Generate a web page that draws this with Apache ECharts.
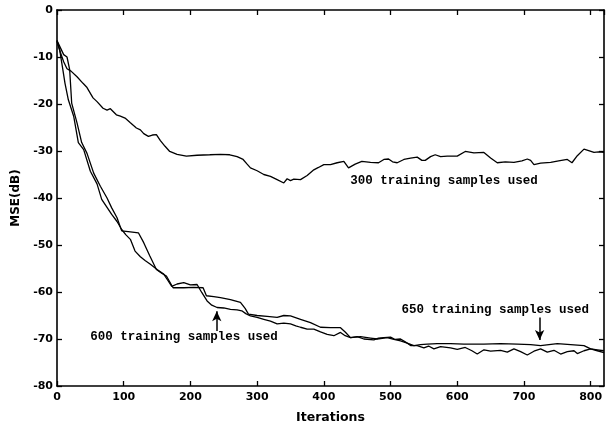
<!DOCTYPE html>
<html>
<head>
<meta charset="utf-8">
<script src="https://cdn.jsdelivr.net/npm/echarts@6/dist/echarts.min.js"></script>
<style>
html,body{margin:0;padding:0;background:#fff;}
#chart{width:611px;height:429px;}
</style>
</head>
<body>
<div id="chart"></div>
<script>
// ---- data ----
var iter300 = [0,5,10,15,21,30,39,45,54,60,69,75,80,89,95,102,110,119,125,130,137,143,149,155,162,169,180,194,210,229,245,259,270,279,285,290,300,310,320,330,340,345,350,355,365,375,385,392,400,410,420,430,437,447,457,470,482,490,497,503,510,520,530,540,547,552,560,567,575,585,600,612,625,640,650,660,672,685,697,705,710,715,725,740,752,765,772,780,790,797,805,812,820];
var mse300 = [-6.7,-9,-11,-12.5,-13,-14.2,-15.6,-16.5,-18.7,-19.5,-20.9,-21.3,-21,-22.3,-22.6,-23,-24,-25.1,-25.5,-26.3,-26.9,-26.6,-26.5,-27.8,-29,-30.1,-30.7,-31.1,-30.9,-30.8,-30.7,-30.8,-31.2,-31.8,-32.8,-33.6,-34.2,-35,-35.4,-36.1,-36.8,-35.9,-36.3,-36,-36.1,-35.2,-34,-33.5,-32.9,-32.9,-32.5,-32.2,-33.6,-32.8,-32.2,-32.4,-32.5,-31.8,-31.7,-32.3,-32.5,-31.8,-31.5,-31.3,-32,-32,-31.2,-30.8,-31.2,-31.1,-31.1,-30.1,-30.4,-30.3,-31.5,-32.5,-32.3,-32.4,-32.1,-31.7,-32,-32.9,-32.6,-32.4,-32.1,-31.8,-32.5,-31,-29.6,-29.9,-30.3,-30.2,-30.3];

var iter650 = [0,5,10,15,19,22,30,37,45,55,65,75,82,90,97,110,122,130,139,149,157,164,174,190,205,219,224,235,245,260,275,282,287,300,315,330,340,350,365,380,395,410,425,432,440,455,470,480,495,505,515,525,535,545,555,570,590,610,640,665,690,710,725,750,770,790,800,810,820];
var mse650 = [-6.5,-8,-9.5,-10,-12.7,-19.8,-24,-28.2,-30.5,-34.7,-37.5,-40,-42.1,-44.2,-47,-47.2,-47.4,-49.5,-52.3,-55.2,-56,-56.6,-59.1,-59.1,-59,-59.1,-60.8,-61,-61.2,-61.6,-62.2,-63.5,-64.7,-65,-65.2,-65.4,-65,-65.1,-65.8,-66.5,-67.5,-67.6,-67.6,-68.5,-69.7,-69.5,-69.8,-70,-69.7,-70.1,-70.4,-70.9,-71.4,-71.2,-71.1,-71,-71,-71.1,-71.1,-71,-71.1,-71.2,-71.4,-71,-71.2,-71.4,-72.1,-72.3,-72.5];

var iter600 = [0,4,8,12,17,25,32,40,50,60,67,75,82,90,97,103,110,117,125,132,140,150,160,166,172,180,190,200,210,217,225,232,240,250,260,270,277,283,290,300,310,320,330,340,350,358,365,375,385,395,405,415,425,432,440,450,460,475,482,490,500,507,515,522,530,540,550,557,565,575,590,600,612,622,630,640,650,665,675,685,695,705,715,725,735,745,755,765,775,780,790,800,810,820];
var mse600 = [-6.5,-8.5,-12,-15.6,-19.1,-22.6,-28.2,-29.7,-34.3,-37,-40.3,-42,-43.5,-45,-46.7,-47.8,-48.8,-51.3,-52.5,-53.3,-54.1,-55.2,-56.2,-57.5,-58.8,-58.3,-58,-58.5,-58.4,-60.1,-61.9,-62.8,-63.3,-63.4,-63.7,-63.8,-64,-64.6,-65.1,-65.4,-65.8,-66.2,-66.8,-66.6,-66.8,-67.2,-67.5,-67.9,-67.9,-68.5,-69,-69.3,-68.6,-69.3,-69.7,-69.5,-70,-70.2,-69.8,-69.7,-69.6,-70.1,-70,-70.6,-71.4,-71.4,-71.9,-71.5,-72.1,-71.6,-71.9,-72.2,-71.8,-72.5,-73.2,-72.3,-72.6,-72.4,-72.8,-72.1,-72.7,-73.4,-72.6,-72.1,-72.8,-72.4,-73.2,-72.7,-72.5,-73.1,-72.5,-72.1,-72.5,-72.9];

var xTicks = [0,100,200,300,400,500,600,700,800];
var yTicks = [0,-10,-20,-30,-40,-50,-60,-70,-80];

var noteTexts = ['300 training samples used','600 training samples used','650 training samples used'];
var noteX = [580,190.5,657];
var noteY = [-36.3,-69.6,-63.9];
var arrowX = [239.5,723.5];
var arrowFromY = [-68.3,-65.4];
var arrowToY = [-64.1,-70.2];

function pairs(xs, ys){ return xs.map(function(x,i){return [x, ys[i]];}); }

var chart = echarts.init(document.getElementById('chart'), null, {renderer:'canvas'});
var axisFont = {fontFamily:'DejaVu Sans', fontWeight:'bold', fontSize:11, color:'#000'};
var lineStyleAxis = {color:'#000', width:1.6};

var option = {
  animation:false,
  backgroundColor:'#fff',
  grid:{left:57, right:7, top:10, bottom:42, containLabel:false},
  xAxis:[{
    type:'value', min:0, max:820, interval:100, position:'bottom',
    name:'Iterations', nameLocation:'middle', nameGap:25,
    nameTextStyle:{fontFamily:'DejaVu Sans', fontWeight:'bold', fontSize:12.5, color:'#000'},
    axisLine:{show:true, onZero:false, lineStyle:lineStyleAxis},
    axisTick:{show:true, inside:true, length:5, lineStyle:{color:'#000', width:1.3}},
    axisLabel:Object.assign({margin:6, showMaxLabel:false}, axisFont),
    splitLine:{show:false}
  },{
    type:'value', min:0, max:820, interval:100, position:'top',
    axisLine:{show:true, onZero:false, lineStyle:lineStyleAxis},
    axisTick:{show:true, inside:true, length:5, lineStyle:{color:'#000', width:1.3}},
    axisLabel:{show:false}, splitLine:{show:false}
  }],
  yAxis:[{
    type:'value', min:-80, max:0, interval:10, position:'left',
    name:'MSE(dB)', nameLocation:'middle', nameGap:32, nameRotate:90,
    nameTextStyle:{fontFamily:'DejaVu Sans', fontWeight:'bold', fontSize:12, color:'#000'},
    axisLine:{show:true, onZero:false, lineStyle:lineStyleAxis},
    axisTick:{show:true, inside:true, length:5, lineStyle:{color:'#000', width:1.3}},
    axisLabel:Object.assign({margin:4}, axisFont),
    splitLine:{show:false}
  },{
    type:'value', min:-80, max:0, interval:10, position:'right',
    axisLine:{show:true, onZero:false, lineStyle:lineStyleAxis},
    axisTick:{show:true, inside:true, length:5, lineStyle:{color:'#000', width:1.3}},
    axisLabel:{show:false}, splitLine:{show:false}
  }],
  series:[
    {name:'300 training samples', type:'line', data:pairs(iter300, mse300), showSymbol:false, symbol:'none',
     lineStyle:{color:'#000', width:1.3}},
    {name:'650 training samples', type:'line', data:pairs(iter650, mse650), showSymbol:false, symbol:'none',
     lineStyle:{color:'#000', width:1.3}},
    {name:'600 training samples', type:'line', data:pairs(iter600, mse600), showSymbol:false, symbol:'none',
     lineStyle:{color:'#000', width:1.3},
     markLine:{
       silent:true, symbol:['none','arrow'], symbolSize:[7,10],
       label:{show:false},
       lineStyle:{color:'#000', width:1.5, type:'solid'},
       data: arrowX.map(function(x,i){ return [{coord:[x, arrowFromY[i]]},{coord:[x, arrowToY[i]]}]; })
     }}
  ]
};
chart.setOption(option);

var graphics = noteTexts.map(function(t,i){
  var p = chart.convertToPixel({xAxisIndex:0, yAxisIndex:0}, [noteX[i], noteY[i]]);
  return {type:'text', x:p[0], y:p[1], z:100,
    style:{text:t, fill:'#000', font:'bold 12.5px "Liberation Mono", "Courier New", monospace',
      textAlign:'center', textVerticalAlign:'middle'}};
});
chart.setOption({graphic:graphics});
</script>
</body>
</html>
